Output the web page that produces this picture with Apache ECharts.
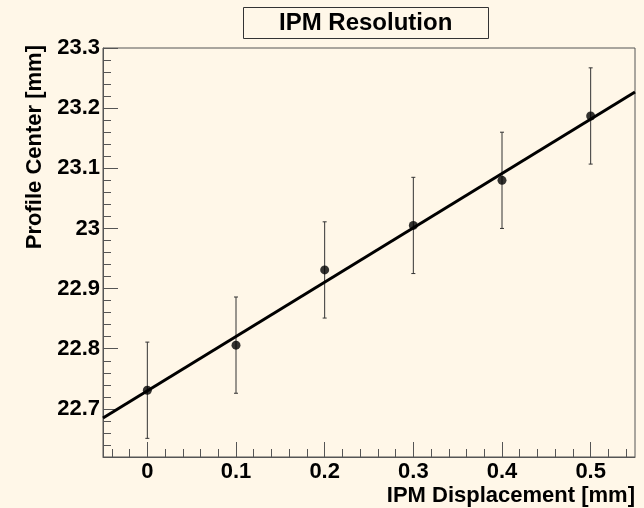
<!DOCTYPE html>
<html>
<head>
<meta charset="utf-8">
<script src="https://cdn.jsdelivr.net/npm/echarts@6/dist/echarts.min.js"></script>
<style>
  html, body { margin: 0; padding: 0; background: #fff7e8; }
  #chart { width: 644px; height: 508px; }
</style>
</head>
<body>
<div id="chart"></div>
<script>
// measured points
const displacement = [0, 0.1, 0.2, 0.3, 0.4, 0.5];
const profileCenter = [22.731, 22.806, 22.931, 23.005, 23.080, 23.187];
const centerError = [0.08, 0.08, 0.08, 0.08, 0.08, 0.08];

// straight line fit, drawn across the frame
const fitX = [-0.05, 0.55];
const fitY = [22.685, 23.227];

// axis ticks
const xLabels = [0, 0.1, 0.2, 0.3, 0.4, 0.5];
const yLabels = [22.7, 22.8, 22.9, 23, 23.1, 23.2, 23.3];

const xMinor = [];
for (let i = -2; i <= 27; i++) xMinor.push(+(i * 0.02).toFixed(2));
const yMinor = [];
for (let i = 0; i <= 34; i++) yMinor.push(+(22.62 + i * 0.02).toFixed(2));

const font = 'Liberation Sans';
const axisColor = '#555';

let chart = echarts.init(document.getElementById('chart'));

const labelStyle = {
    fontFamily: font,
    fontWeight: 'bold',
    fontSize: 22,
    color: '#000',
};

const option = {
    animation: false,
    backgroundColor: '#fff7e8',
    title: {
        text: 'IPM Resolution',
        left: 243,
        top: 7,
        padding: [4, 36],
        borderWidth: 1,
        borderColor: '#333',
        textStyle: { fontFamily: font, fontWeight: 'bold', fontSize: 24, color: '#000' },
    },
    grid: {
        left: 103,
        right: 9,
        top: 48,
        bottom: 51,
        outerBoundsMode: 'none',
        show: true,
        borderColor: axisColor,
        borderWidth: 1,
    },
    xAxis: [{
        type: 'value',
        min: -0.05,
        max: 0.55,
        name: 'IPM Displacement [mm]',
        nameLocation: 'end',
        nameGap: 0,
        nameTextStyle: {
            fontFamily: font, fontWeight: 'bold', fontSize: 22, color: '#000',
            align: 'right', verticalAlign: 'top', padding: [28, 0, 0, 0],
        },
        splitLine: { show: false },
        axisLine: { onZero: false, lineStyle: { color: axisColor, width: 1 } },
        axisTick: { inside: true, length: 15, customValues: xLabels, lineStyle: { color: axisColor } },
        axisLabel: Object.assign({ margin: 4, customValues: xLabels }, labelStyle),
    }, {
        type: 'value',
        min: -0.05,
        max: 0.55,
        position: 'bottom',
        splitLine: { show: false },
        axisLine: { show: false, onZero: false },
        axisTick: { inside: true, length: 8, customValues: xMinor, lineStyle: { color: axisColor } },
        axisLabel: { show: false },
    }],
    yAxis: [{
        type: 'value',
        min: 22.62,
        max: 23.3,
        name: 'Profile Center [mm]',
        nameLocation: 'end',
        nameRotate: 90,
        nameGap: 3,
        nameTextStyle: {
            fontFamily: font, fontWeight: 'bold', fontSize: 22, color: '#000',
            align: 'right', verticalAlign: 'bottom', padding: [0, 0, 57, 0],
        },
        splitLine: { show: false },
        axisLine: { show: true, onZero: false, lineStyle: { color: axisColor, width: 1 } },
        axisTick: { show: true, inside: true, length: 15, customValues: yLabels, lineStyle: { color: axisColor } },
        axisLabel: Object.assign({ margin: 3, customValues: yLabels }, labelStyle),
    }, {
        type: 'value',
        min: 22.62,
        max: 23.3,
        position: 'left',
        splitLine: { show: false },
        axisLine: { show: false, onZero: false },
        axisTick: { show: true, inside: true, length: 8, customValues: yMinor, lineStyle: { color: axisColor } },
        axisLabel: { show: false },
    }],
    series: [
        {
            // error bars
            type: 'custom',
            data: displacement.map((x, i) => [x, profileCenter[i], centerError[i]]),
            renderItem: function (params, api) {
                const x = api.value(0), y = api.value(1), e = api.value(2);
                const lo = api.coord([x, y - e]);
                const hi = api.coord([x, y + e]);
                const style = { stroke: '#333', lineWidth: 1 };
                return {
                    type: 'group',
                    children: [
                        { type: 'line', shape: { x1: lo[0], y1: lo[1], x2: hi[0], y2: hi[1] }, style: style },
                        { type: 'line', shape: { x1: lo[0] - 2, y1: lo[1], x2: lo[0] + 2, y2: lo[1] }, style: style },
                        { type: 'line', shape: { x1: hi[0] - 2, y1: hi[1], x2: hi[0] + 2, y2: hi[1] }, style: style },
                    ],
                };
            },
            z: 2,
        },
        {
            type: 'line',
            data: fitX.map((x, i) => [x, fitY[i]]),
            showSymbol: false,
            lineStyle: { color: '#000', width: 3 },
            z: 3,
        },
        {
            type: 'scatter',
            data: displacement.map((x, i) => [x, profileCenter[i]]),
            symbol: 'circle',
            symbolSize: 9,
            itemStyle: { color: '#000' },
            z: 4,
        },
    ],
};

chart.setOption(option);
</script>
</body>
</html>
